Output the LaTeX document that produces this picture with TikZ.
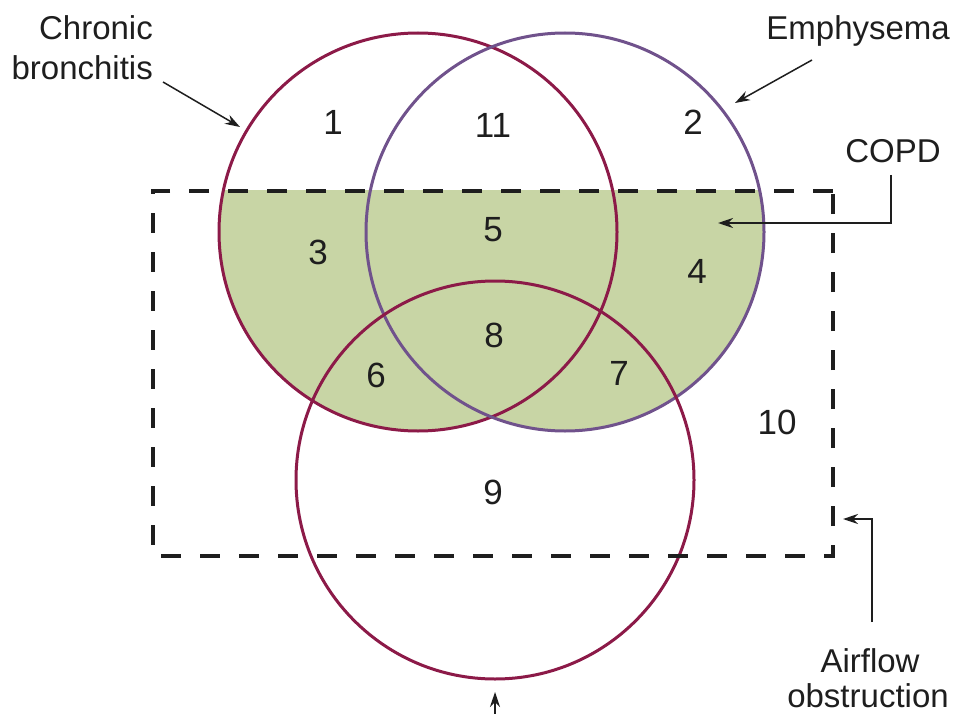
\documentclass[tikz,border=0pt]{standalone}
\usepackage{fontspec}
\setmainfont{Liberation Sans}
\usetikzlibrary{arrows.meta}
\definecolor{cbred}{RGB}{140,26,72}
\definecolor{empur}{RGB}{112,82,140}
\definecolor{copdgreen}{RGB}{200,213,165}
\definecolor{ink}{RGB}{30,30,30}
\begin{document}
\begin{tikzpicture}[x=1pt,y=-1pt,
  lbl/.style={font=\fontsize{33}{40}\selectfont, inner sep=0pt, text=ink},
  num/.style={font=\fontsize{35}{40}\selectfont, inner sep=0pt, text=ink},
  ring/.style={circle, draw, line width=3pt, minimum size=398pt, inner sep=0pt, outer sep=0pt},
  pointer/.style={draw=ink, line width=1.5pt, -{Stealth[length=15pt,width=10pt]}},
  region/.style={dash pattern=on 20pt off 19pt, line width=4pt, draw=ink}]
\useasboundingbox (0,0) rectangle (955,714);
% COPD shading
\begin{scope}
  \clip (0,191) rectangle (955,714);
  \fill[copdgreen] (418,232) circle[radius=199] (565,232) circle[radius=199];
\end{scope}
% circles
\node[ring, draw=cbred] (cb) at (418,232) {};
\node[ring, draw=empur] (em) at (565,232) {};
\node[ring, draw=cbred] (as) at (495,480) {};
% airflow obstruction region
\draw[region] (833,191) -- (153,191) -- (153,556) -- (833,556) -- cycle;
% region numbers
\node[num] (n1) at (333,122) {1};
\node[num] (n11) at (493,125) {11};
\node[num] (n2) at (693,122) {2};
\node[num] (n3) at (318,252) {3};
\node[num] (n5) at (493,230) {5};
\node[num] (n4) at (697,271) {4};
\node[num] (n8) at (494,335) {8};
\node[num] (n6) at (376,375) {6};
\node[num] (n7) at (619,373) {7};
\node[num] (n10) at (777,422) {10};
\node[num] (n9) at (493,492) {9};
% labels
\node[lbl, anchor=base east] (cbt1) at (153,40) {Chronic};
\node[lbl, anchor=base east] (cbt2) at (153,80) {bronchitis};
\node[lbl, anchor=base east] (emt) at (950,40) {Emphysema};
\node[lbl, anchor=base] (copdt) at (893,163) {COPD};
\node[lbl, anchor=base] (aft1) at (870,672) {Airflow};
\node[lbl, anchor=base] (aft2) at (868,707) {obstruction};
% pointers
\coordinate (cbs) at (163,82);
\coordinate (cbtip) at (240,127);
\draw[pointer] (cbs) -- (cbtip);
\coordinate (ems) at (812,60);
\coordinate (emtip) at (735,103);
\draw[pointer] (ems) -- (emtip);
\coordinate (copdfoot) at (891,175);
\coordinate (copdtip) at (718,223);
\draw[pointer] (copdfoot) |- (copdtip);
\coordinate (affoot) at (872,622);
\coordinate (aftip) at (843,519);
\draw[pointer] (affoot) |- (aftip);
\coordinate (asfoot) at (495,720);
\coordinate (astip) at (495,692);
\draw[pointer] (asfoot) -- (astip);
\end{tikzpicture}
\end{document}
